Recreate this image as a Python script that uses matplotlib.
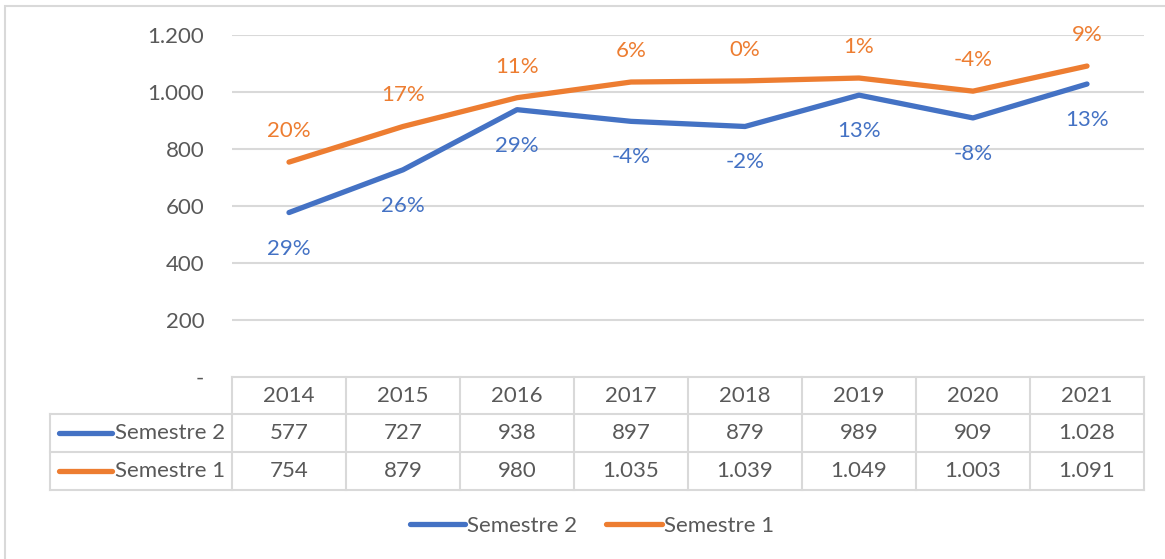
import matplotlib.pyplot as plt
from matplotlib.patches import Rectangle
import matplotlib.transforms as mtransforms

# data
years = ["2014", "2015", "2016", "2017", "2018", "2019", "2020", "2021"]
sem2 = [577, 727, 938, 897, 879, 989, 909, 1028]
sem1 = [754, 879, 980, 1035, 1039, 1049, 1003, 1091]
sem2_pct = ["29%", "26%", "29%", "-4%", "-2%", "13%", "-8%", "13%"]
sem1_pct = ["20%", "17%", "11%", "6%", "0%", "1%", "-4%", "9%"]
yticks = [0, 200, 400, 600, 800, 1000, 1200]

BLUE = "#4472C4"
ORANGE = "#ED7D31"
TXT = "#595959"
GRID = "#D9D9D9"
FS = 16

plt.rcParams['font.family'] = ['Lato', 'DejaVu Sans']

W, H = 1165, 559
fig = plt.figure(figsize=(W / 100, H / 100), dpi=100)


def fx(px):
    return px / W


def fy(py):
    return 1 - py / H


def fmt(v):
    return f"{v:,}".replace(",", ".")


# cadre extérieur
fig.patches.append(Rectangle((fx(5), fy(575)), fx(1175) - fx(5), fy(6) - fy(575),
                             transform=fig.transFigure, fill=False,
                             edgecolor=GRID, linewidth=1.5))

ax = fig.add_axes([fx(232), fy(377), fx(1144) - fx(232), fy(35) - fy(377)])
x = list(range(len(years)))
ax.set_xlim(-0.5, len(years) - 0.5)
ax.set_ylim(0, 1200)
ax.set_yticks(yticks)
ax.set_yticklabels(["-" if v == 0 else fmt(v) for v in yticks])
ax.tick_params(axis='y', length=0, pad=20, labelsize=FS, labelcolor=TXT)
ax.set_xticks([])
for s in ax.spines.values():
    s.set_visible(False)
for v in yticks[1:]:
    ax.axhline(v, color=GRID, linewidth=1.5, zorder=0)

l2, = ax.plot(x, sem2, color=BLUE, linewidth=3.8, solid_capstyle='round',
              label="Semestre 2", zorder=3)
l1, = ax.plot(x, sem1, color=ORANGE, linewidth=3.8, solid_capstyle='round',
              label="Semestre 1", zorder=3)

for i in x:
    ax.annotate(sem1_pct[i], (i, sem1[i]), xytext=(0, 31), textcoords='offset pixels',
                ha='center', va='center', color=ORANGE, fontsize=FS)
    ax.annotate(sem2_pct[i], (i, sem2[i]), xytext=(0, -36), textcoords='offset pixels',
                ha='center', va='center', color=BLUE, fontsize=FS)

# tableau de données sous le graphique
bt = mtransforms.blended_transform_factory(ax.transData, fig.transFigure)
rows_y = [377, 414, 452, 490]
lw = 1.5
for k in range(len(years) + 1):
    ax.plot([k - 0.5, k - 0.5], [fy(377), fy(490)], transform=bt, color=GRID,
            linewidth=lw, clip_on=False)
ax.plot([-0.5, len(years) - 0.5], [fy(377), fy(377)], transform=bt, color=GRID,
        linewidth=lw, clip_on=False)
for yy in rows_y[1:]:
    fig.add_artist(plt.Line2D([fx(50), fx(1144)], [fy(yy), fy(yy)], color=GRID,
                              linewidth=lw))
fig.add_artist(plt.Line2D([fx(50), fx(50)], [fy(414), fy(490)], color=GRID, linewidth=lw))

for i in x:
    ax.text(i, fy((377 + 414) / 2), years[i], transform=bt, ha='center', va='center',
            fontsize=FS, color=TXT)
    ax.text(i, fy((414 + 452) / 2), fmt(sem2[i]), transform=bt, ha='center', va='center',
            fontsize=FS, color=TXT)
    ax.text(i, fy((452 + 490) / 2), fmt(sem1[i]), transform=bt, ha='center', va='center',
            fontsize=FS, color=TXT)

for (name, col, yy) in [("Semestre 2", BLUE, (414 + 452) / 2), ("Semestre 1", ORANGE, (452 + 490) / 2)]:
    fig.add_artist(plt.Line2D([fx(59), fx(112)], [fy(yy), fy(yy)], color=col,
                              linewidth=3.8, solid_capstyle='round'))
    fig.text(fx(115), fy(yy), name, ha='left', va='center', fontsize=FS, color=TXT)

leg = fig.legend(handles=[l2, l1], loc='center', bbox_to_anchor=(fx(592), fy(526)),
                 ncol=2, frameon=False, fontsize=FS, handlelength=2.5,
                 handletextpad=0.1, columnspacing=1.3)
for t in leg.get_texts():
    t.set_color(TXT)

fig.savefig("out.png", dpi=100)
